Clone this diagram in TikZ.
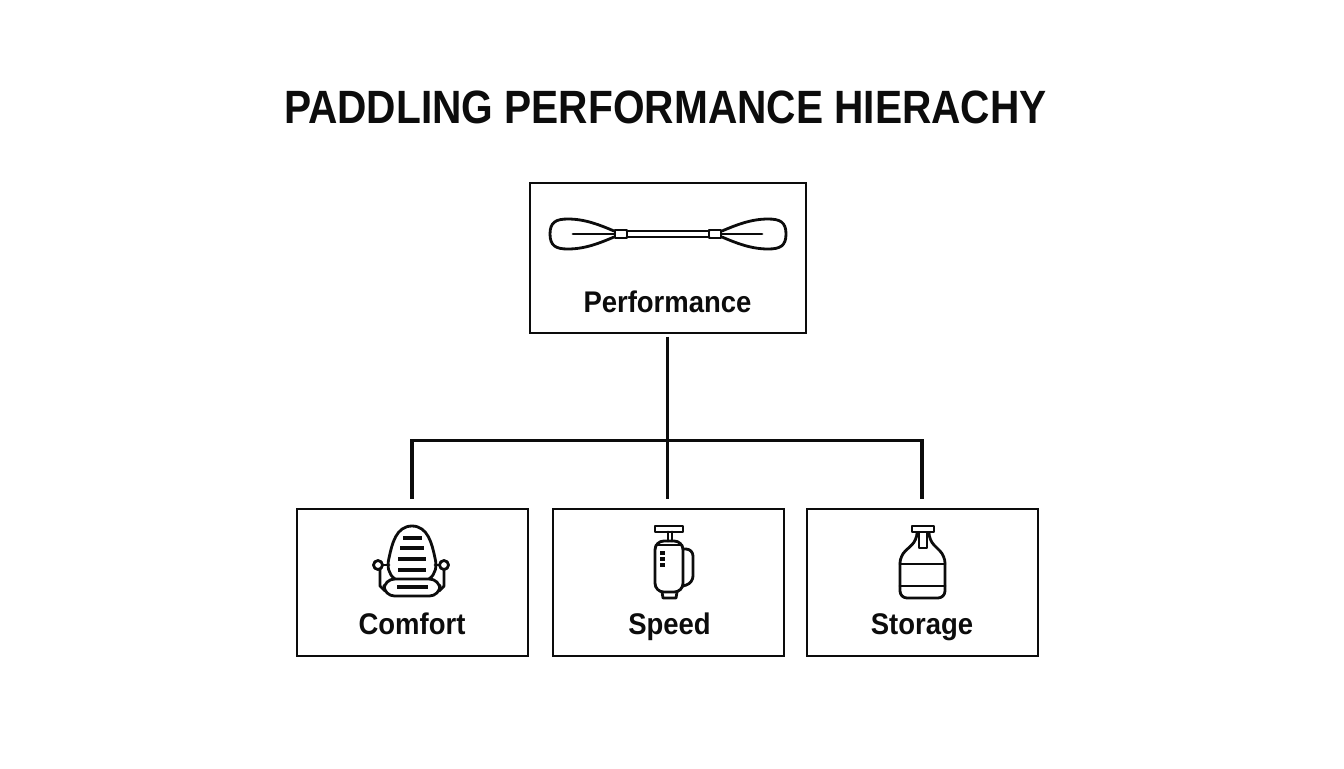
\documentclass[tikz,border=0pt]{standalone}
\usepackage{fontspec}
\setmainfont[FakeStretch=0.92]{Liberation Sans}
\newfontfamily\titlefont[FakeStretch=0.87]{Liberation Sans}
\usepackage{xcolor}
\usetikzlibrary{positioning}
\definecolor{inkblack}{RGB}{12,12,12}
\tikzset{
    box/.style={draw=inkblack, line width=1.2pt, minimum width=4.62cm, minimum height=2.94cm, anchor=north west, inner sep=0pt, outer sep=0pt},
    boxlabel/.style={font=\bfseries\fontsize{17}{20}\selectfont, text=inkblack, inner sep=0pt, anchor=base},
    icon/.style={draw=inkblack, line width=1.6pt, line join=round, line cap=round},
    bar/.style={icon, line width=1.8pt, line cap=butt},
    link/.style={draw=inkblack, line width=1.9pt}
}

\begin{document}
\begin{tikzpicture}[x=0.02cm, y=-0.02cm]
    \useasboundingbox (0,0) rectangle (1344,768);
    \node[font=\titlefont\bfseries\fontsize{26.6}{32}\selectfont, text=inkblack, inner sep=0pt, anchor=base] (title) at (665.5,123.3) {PADDLING PERFORMANCE HIERACHY};

    \node[box, minimum width=5.52cm, minimum height=3cm] (perf) at (529.6,182.6) {};
    \node[box] (comfort) at (296.6,508.6) {};
    \node[box] (speed) at (552.6,508.6) {};
    \node[box] (storage) at (806.6,508.6) {};

    \node[boxlabel] (perflabel) at (667.5,312) {Performance};
    \node[boxlabel] (comfortlabel) at (412,634.5) {Comfort};
    \node[boxlabel] (speedlabel) at (669.5,634.5) {Speed};
    \node[boxlabel] (storagelabel) at (922,634.5) {Storage};

    % connectors
    \coordinate (bus) at (perf.south |- 0,440.4);
    \draw[link, shorten <=0.08cm] (perf.south) -- (bus);
    \draw[link, shorten >=0.2cm] (bus) -| (comfort.north);
    \draw[link, shorten >=0.2cm] (bus) -- (speed.north -| bus);
    \draw[link, shorten >=0.2cm] (bus) -| (storage.north);

    % paddle
    \draw[icon] (614,231) .. controls (600,225) and (585,219) .. (568,219) .. controls (556,219) and (550,222) .. (550,234) .. controls (550,246) and (556,249) .. (568,249) .. controls (585,249) and (600,243) .. (614,237);
    \draw[icon] (722,231) .. controls (736,225) and (751,219) .. (768,219) .. controls (780,219) and (786,222) .. (786,234) .. controls (786,246) and (780,249) .. (768,249) .. controls (751,249) and (736,243) .. (722,237);
    \draw[icon] (615,230) rectangle (627,238);
    \draw[icon] (709,230) rectangle (721,238);
    \draw[icon] (627,231) -- (709,231);
    \draw[icon] (627,237) -- (709,237);
    \draw[icon] (573,234) -- (614,234);
    \draw[icon] (722,234) -- (762,234);

    % seat
    \draw[icon] (395,579) .. controls (388,574) and (387,566) .. (389,558) .. controls (392,544) and (396,526) .. (412,526) .. controls (428,526) and (432,544) .. (435,558) .. controls (437,566) and (436,574) .. (429,579);
    \draw[icon, rounded corners=6pt] (384,579) rectangle (440,596);
    \draw[icon] (378,565) circle (4.5);
    \draw[icon] (444,565) circle (4.5);
    \draw[icon] (382.5,565) -- (389,565);
    \draw[icon] (439.5,565) -- (435,565);
    \draw[icon] (380,569.5) -- (380,586) -- (385,591);
    \draw[icon] (444,569.5) -- (444,586) -- (439,591);
    \foreach \y/\a/\b in {538/403/422, 548/400/424, 559/398/426, 570/398/426, 587/397/428}
        \draw[bar] (\a,\y) -- (\b,\y);

    % pump
    \draw[icon] (655,526) rectangle (683,532);
    \draw[icon] (668,532) -- (668,541);
    \draw[icon] (672,532) -- (672,541);
    \draw[icon, rounded corners=5pt] (655,541) rectangle (683,592);
    \draw[icon] (656,545) -- (682,545);
    \draw[icon, rounded corners=4pt] (683,549) -- (693,549) -- (693,583) -- (683,586);
    \draw[icon] (662,592) -- (663,598) -- (676,598) -- (677,592);
    \foreach \y in {553,559,565}
        \draw[bar] (660,\y) -- (665,\y);

    % bottle
    \draw[icon] (912,526) rectangle (934,532);
    \draw[icon] (919,533) -- (919,548) -- (927,548) -- (927,533);
    \draw[icon, rounded corners=4pt] (917,533) -- (917,540) -- (900,556) -- (900,598) -- (945,598) -- (945,556) -- (929,540) -- (929,533);
    \draw[icon] (900,564) -- (945,564);
    \draw[icon] (900,586) -- (945,586);
\end{tikzpicture}
\end{document}
